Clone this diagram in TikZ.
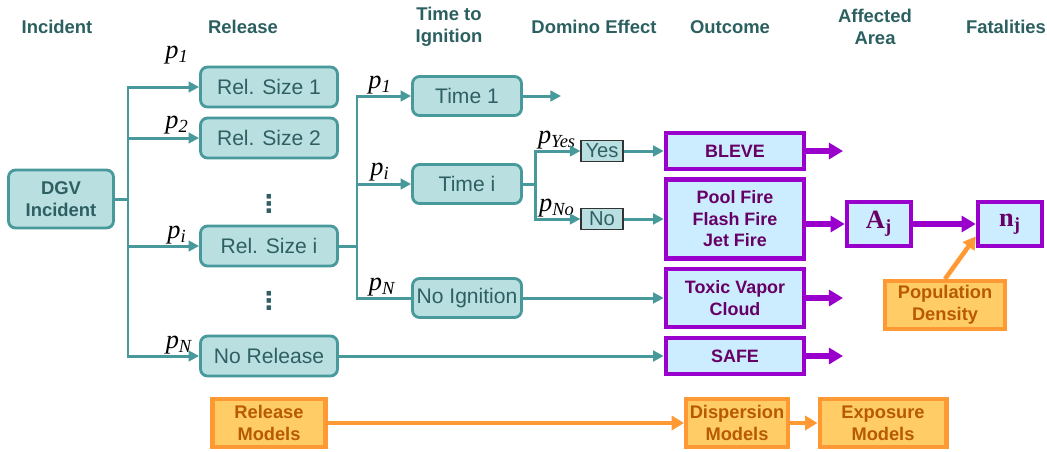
\documentclass[tikz,border=0pt]{standalone}
\usepackage{fontspec}
\setmainfont{Liberation Sans}
\newfontfamily\tms{Liberation Serif}
\newfontfamily\djv{DejaVu Sans}
\usetikzlibrary{arrows.meta}

\definecolor{headtext}{HTML}{2B5F60}
\definecolor{tealfill}{HTML}{B9DFE1}
\definecolor{tealdraw}{HTML}{47999C}
\definecolor{tealtext}{HTML}{2E6063}
\definecolor{purpdraw}{HTML}{9900CC}
\definecolor{purpfill}{HTML}{CCECFF}
\definecolor{purptext}{HTML}{660066}
\definecolor{orgdraw}{HTML}{FF9933}
\definecolor{orgfill}{HTML}{FFCC66}
\definecolor{orgtext}{HTML}{B85A00}

\newcommand{\prob}[1]{{\tms\itshape p\textsubscript{#1}}}

\begin{document}
\begin{tikzpicture}[x=0.02cm, y=-0.02cm,
    head/.style={text=headtext, font=\fontsize{10.5}{12.5}\selectfont\bfseries, align=center},
    tbox/.style={rounded corners=4pt, draw=tealdraw, fill=tealfill, line width=1.6pt, text=tealtext, font=\fontsize{12}{14}\selectfont, inner sep=0pt, align=center},
    ybox/.style={draw=black!80, fill=tealfill, line width=0.7pt, text=tealtext, font=\fontsize{11.5}{13}\selectfont, minimum width=0.84cm, minimum height=0.42cm, inner sep=0pt},
    obox/.style={draw=purpdraw, fill=purpfill, line width=2.6pt, text=purptext, font=\fontsize{10.2}{12.2}\selectfont\bfseries, align=center, minimum width=2.76cm, inner sep=0pt},
    abox/.style={draw=purpdraw, fill=purpfill, line width=2.6pt, text=purptext, font=\fontsize{15}{17}\selectfont\tms\bfseries, minimum width=1.28cm, minimum height=0.88cm, inner sep=0pt},
    mbox/.style={draw=orgdraw, fill=orgfill, line width=2.3pt, text=orgtext, font=\fontsize{10.4}{12.4}\selectfont\bfseries, align=center, minimum height=0.96cm, inner sep=0pt},
    plabel/.style={font=\fontsize{15}{17}\selectfont, inner sep=0pt},
    vdot/.style={text=tealtext, font=\fontsize{14}{14}\selectfont\djv\bfseries, inner sep=0pt},
    tline/.style={draw=tealdraw, line width=1.7pt},
    tarrow/.style={tline, -{Triangle[length=6pt, width=6pt]}},
    parrow/.style={draw=purpdraw, line width=3.2pt, -{Triangle[length=8pt, width=9pt]}},
    oarrow/.style={draw=orgdraw, line width=2.6pt, -{Triangle[length=7pt, width=8pt]}}]
    \useasboundingbox (0, 0) rectangle (1047, 451);

    %Headers
    \node[head] at (57, 27) (hinc) {Incident};
    \node[head] at (243, 27) (hrel) {Release};
    \node[head] at (449, 27) (htime) {Time to\\Ignition};
    \node[head] at (594, 27) (hdom) {Domino Effect};
    \node[head] at (730, 27) (hout) {Outcome};
    \node[head] at (875, 27) (harea) {Affected\\Area};
    \node[head] at (1006, 27) (hfat) {Fatalities};

    %Nodes
    \node[tbox, font=\fontsize{10.5}{12.5}\selectfont\bfseries, minimum width=2.1cm, minimum height=1.16cm] at (61, 199) (dgv) {DGV\\Incident};
    \node[tbox, minimum width=2.74cm, minimum height=0.8cm] at (269, 87) (rs1) {Rel. Size 1};
    \node[tbox, minimum width=2.74cm, minimum height=0.8cm] at (269, 138) (rs2) {Rel. Size 2};
    \node[vdot] at (269, 204) (dots1) {⋮};
    \node[tbox, minimum width=2.74cm, minimum height=0.8cm] at (269, 246) (rsi) {Rel. Size i};
    \node[vdot] at (269, 301) (dots2) {⋮};
    \node[tbox, minimum width=2.74cm, minimum height=0.8cm] at (269, 356) (norel) {No Release};

    \node[tbox, minimum width=2.18cm, minimum height=0.78cm] at (467, 96) (t1) {Time 1};
    \node[tbox, minimum width=2.18cm, minimum height=0.78cm] at (467, 184) (ti) {Time i};
    \node[tbox, minimum width=2.18cm, minimum height=0.78cm] at (467, 298) (noig) {No Ignition};

    \node[ybox] at (602, 151) (yes) {Yes};
    \node[ybox] at (602, 219) (no) {No};

    \node[obox, minimum height=0.72cm] at (735, 151) (bleve) {BLEVE};
    \node[obox, minimum height=1.58cm] at (735, 219) (pool) {Pool Fire\\Flash Fire\\Jet Fire};
    \node[obox, minimum height=1.16cm] at (735, 298) (toxic) {Toxic Vapor\\Cloud};
    \node[obox, minimum height=0.72cm] at (735, 356) (safe) {SAFE};

    \node[abox] at (879, 224) (aj) {A\textsubscript{j}};
    \node[abox] at (1010, 224) (nj) {n\textsubscript{j}};

    \node[mbox, minimum width=2.4cm] at (945, 305) (pop) {Population\\Density};
    \node[mbox, minimum width=2.26cm] at (269, 423) (relm) {Release\\Models};
    \node[mbox, minimum width=2.04cm] at (737, 423) (disp) {Dispersion\\Models};
    \node[mbox, minimum width=2.54cm] at (883, 423) (expo) {Exposure\\Models};

    %Probabilities
    \node[plabel] at (177, 55) (pr1) {\prob{1}};
    \node[plabel] at (177, 125) (pr2) {\prob{2}};
    \node[plabel] at (177, 235) (pri) {\prob{i}};
    \node[plabel] at (179, 345) (prn) {\prob{N}};
    \node[plabel] at (380, 85) (pt1) {\prob{1}};
    \node[plabel] at (380, 172) (pti) {\prob{i}};
    \node[plabel] at (382, 287) (ptn) {\prob{N}};
    \node[plabel] at (557, 140) (pyes) {\prob{Yes}};
    \node[plabel] at (557, 208) (pno) {\prob{No}};

    %Junctions and free ends
    \coordinate (j1) at (128, 199);
    \coordinate (j2) at (357, 246);
    \coordinate (j3) at (535, 184);
    \coordinate (t1end) at (561, 96);
    \coordinate (bleveend) at (843, 151);
    \coordinate (toxicend) at (843, 298);
    \coordinate (safeend) at (843, 356);

    %Lines
    \draw[tline] (dgv) -- (j1);
    \draw[tarrow] (j1) |- (rs1);
    \draw[tarrow] (j1) |- (rs2);
    \draw[tarrow] (j1) |- (rsi);
    \draw[tarrow] (j1) |- (norel);
    \draw[tline] (rsi) -- (j2);
    \draw[tarrow] (j2) |- (t1);
    \draw[tarrow] (j2) |- (ti);
    \draw[tline] (j2) |- (noig);
    \draw[tarrow] (t1) -- (t1end);
    \draw[tline] (ti) -- (j3);
    \draw[tarrow] (j3) |- (yes);
    \draw[tarrow] (j3) |- (no);
    \draw[tarrow] (yes) -- (bleve);
    \draw[tarrow] (no) -- (pool);
    \draw[tarrow] (noig) -- (toxic);
    \draw[tarrow] (norel) -- (safe);

    \draw[parrow] (bleve) -- (bleveend);
    \draw[parrow] (pool.east |- aj) -- (aj);
    \draw[parrow] (aj) -- (nj);
    \draw[parrow] (toxic) -- (toxicend);
    \draw[parrow] (safe) -- (safeend);

    \draw[oarrow] (relm) -- (disp);
    \draw[oarrow] (disp) -- (expo);
    \draw[oarrow] (pop.north) -- (nj.200);
\end{tikzpicture}
\end{document}
